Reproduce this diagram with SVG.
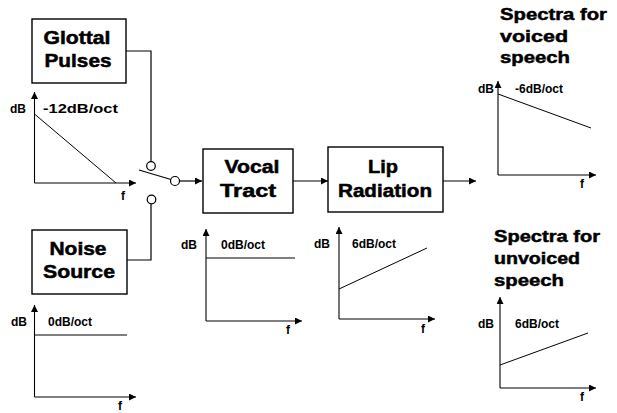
<svg xmlns="http://www.w3.org/2000/svg" width="617" height="413" viewBox="0 0 617 413">
<defs>
<marker id="ah" viewBox="0 0 10 10" refX="10" refY="5" markerWidth="7" markerHeight="7" markerUnits="userSpaceOnUse" orient="auto"><path d="M0,0 L10,5 L0,10 z" fill="#000"/></marker>
<marker id="ax" viewBox="0 0 10 10" refX="10" refY="5" markerWidth="7" markerHeight="7" markerUnits="userSpaceOnUse" orient="auto"><path d="M0,0 L10,5 L0,10 z" fill="#000"/></marker>
</defs>
<style>
.box{fill:#fff;stroke:#000;stroke-width:1.4}
.big{font-family:"Liberation Sans",Arial,sans-serif;font-weight:bold;font-size:18px;fill:#000;stroke:#000;stroke-width:0.5;text-anchor:middle}
.ttl{font-family:"Liberation Sans",Arial,sans-serif;font-weight:bold;font-size:17px;fill:#000;stroke:#000;stroke-width:0.5}
.lbl{font-family:"Liberation Sans",Arial,sans-serif;font-weight:bold;font-size:12px;fill:#000}
.axis{fill:none;stroke:#000;stroke-width:1.1;marker-end:url(#ax)}
.curve{fill:none;stroke:#000;stroke-width:1}
.wire{fill:none;stroke:#000;stroke-width:1.2}
.sw{fill:#fff;stroke:#000;stroke-width:1.2}
</style>
<rect width="617" height="413" fill="#fff"/>

<g id="connectors">
<path class="wire" d="M126,51 H151 V162"/>
<path class="wire" d="M127,260 H151 V204"/>
<line class="wire" x1="139" y1="170" x2="171" y2="179.5"/>
<line class="wire" x1="179.5" y1="181" x2="202" y2="181" marker-end="url(#ah)"/>
<line class="wire" x1="293" y1="181" x2="328" y2="181" marker-end="url(#ah)"/>
<line class="wire" x1="443" y1="181" x2="476" y2="181" marker-end="url(#ah)"/>
</g>

<g id="switch">
<circle class="sw" cx="151" cy="166" r="4.3"/>
<circle class="sw" cx="175" cy="181" r="4.5"/>
<circle class="sw" cx="151.5" cy="199.5" r="4.3"/>
</g>

<g id="glottal-pulses">
<rect class="box" x="32" y="19" width="94" height="64"/>
<text class="big" x="77" y="44" textLength="67" lengthAdjust="spacingAndGlyphs">Glottal</text>
<text class="big" x="78" y="67" textLength="67" lengthAdjust="spacingAndGlyphs">Pulses</text>
</g>

<g id="noise-source">
<rect class="box" x="32" y="230" width="95" height="64"/>
<text class="big" x="78" y="255" textLength="57" lengthAdjust="spacingAndGlyphs">Noise</text>
<text class="big" x="79" y="278" textLength="72" lengthAdjust="spacingAndGlyphs">Source</text>
</g>

<g id="vocal-tract">
<rect class="box" x="203" y="149" width="90" height="64"/>
<text class="big" x="252" y="173" textLength="55" lengthAdjust="spacingAndGlyphs">Vocal</text>
<text class="big" x="248" y="197" textLength="56" lengthAdjust="spacingAndGlyphs">Tract</text>
</g>

<g id="lip-radiation">
<rect class="box" x="328" y="147" width="115" height="65"/>
<text class="big" x="383" y="173" textLength="30" lengthAdjust="spacingAndGlyphs">Lip</text>
<text class="big" x="385" y="197" textLength="94" lengthAdjust="spacingAndGlyphs">Radiation</text>
</g>

<g id="graph-glottal">
<path class="axis" d="M34.5,183 V92"/>
<path class="axis" d="M34.5,183 H136"/>
<line class="curve" x1="34.5" y1="114" x2="116" y2="183"/>
<text class="lbl" x="10" y="113">dB</text>
<text class="lbl" x="43" y="113" textLength="75" lengthAdjust="spacingAndGlyphs">-12dB/oct</text>
<text class="lbl" x="121" y="200">f</text>
</g>

<g id="graph-noise">
<path class="axis" d="M34.5,397 V305"/>
<path class="axis" d="M34.5,397 H136"/>
<line class="curve" x1="34.5" y1="335" x2="127" y2="335"/>
<text class="lbl" x="11" y="326">dB</text>
<text class="lbl" x="48" y="326">0dB/oct</text>
<text class="lbl" x="118" y="410">f</text>
</g>

<g id="graph-vocal">
<path class="axis" d="M206,321 V229"/>
<path class="axis" d="M206,321 H302"/>
<line class="curve" x1="206" y1="258" x2="295" y2="258"/>
<text class="lbl" x="181" y="249">dB</text>
<text class="lbl" x="221" y="249">0dB/oct</text>
<text class="lbl" x="286" y="334">f</text>
</g>

<g id="graph-lip">
<path class="axis" d="M339,319 V227"/>
<path class="axis" d="M339,319 H435"/>
<line class="curve" x1="339" y1="289" x2="427" y2="248"/>
<text class="lbl" x="314" y="248">dB</text>
<text class="lbl" x="352" y="248">6dB/oct</text>
<text class="lbl" x="421" y="333">f</text>
</g>

<g id="voiced-spectra">
<text class="ttl" x="500" y="20" textLength="107" lengthAdjust="spacingAndGlyphs">Spectra for</text>
<text class="ttl" x="500" y="42" textLength="68" lengthAdjust="spacingAndGlyphs">voiced</text>
<text class="ttl" x="500" y="63" textLength="70" lengthAdjust="spacingAndGlyphs">speech</text>
<path class="axis" d="M498,175 V81"/>
<path class="axis" d="M498,175 H596"/>
<line class="curve" x1="498" y1="94" x2="591" y2="128"/>
<text class="lbl" x="478" y="93">dB</text>
<text class="lbl" x="515" y="93">-6dB/oct</text>
<text class="lbl" x="580" y="188">f</text>
</g>

<g id="unvoiced-spectra">
<text class="ttl" x="494" y="242" textLength="106" lengthAdjust="spacingAndGlyphs">Spectra for</text>
<text class="ttl" x="494" y="264" textLength="86" lengthAdjust="spacingAndGlyphs">unvoiced</text>
<text class="ttl" x="494" y="286" textLength="70" lengthAdjust="spacingAndGlyphs">speech</text>
<path class="axis" d="M500,388 V297"/>
<path class="axis" d="M500,388 H596"/>
<line class="curve" x1="500" y1="365" x2="588" y2="333"/>
<text class="lbl" x="478" y="328">dB</text>
<text class="lbl" x="515" y="328">6dB/oct</text>
<text class="lbl" x="580" y="401">f</text>
</g>
</svg>
